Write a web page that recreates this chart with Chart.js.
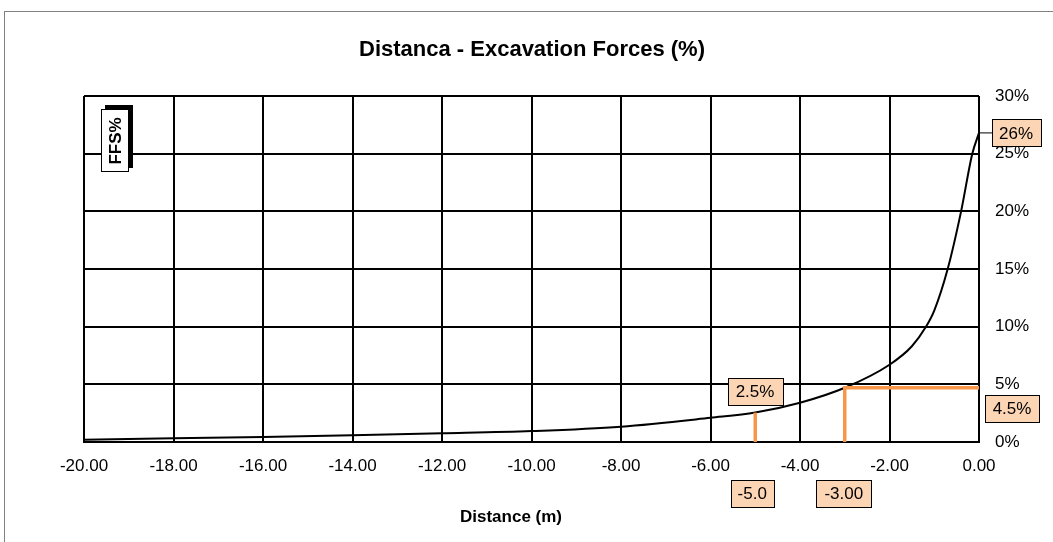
<!DOCTYPE html>
<html lang="en">
<head>
<meta charset="UTF-8">
<title>Distanca - Excavation Forces</title>
<script src="https://cdn.jsdelivr.net/npm/chart.js"></script>
<style>
  body { margin: 0; background: #fff; }
</style>
</head>
<body>
<canvas id="myChart" width="1053" height="542"></canvas>
<script>
// curve: distance (m) vs FFS (%)
const distance = [-20, -18, -16, -14, -12, -10, -8, -6, -5, -4, -3, -2, -1.5, -1.2, -1, -0.7, -0.4, -0.15, 0];
const ffs = [0.2, 0.32, 0.43, 0.58, 0.75, 0.95, 1.33, 2.1, 2.55, 3.4, 4.7, 6.7, 8.3, 9.9, 11.4, 15, 20, 25, 26.8];

// orange marker lines
const markA_x = [-5, -5];
const markA_y = [0, 2.55];
const markB_x = [-3, -3, 0];
const markB_y = [0, 4.7, 4.7];

const xTicks = [-20, -18, -16, -14, -12, -10, -8, -6, -4, -2, 0];
const yTicks = [0, 5, 10, 15, 20, 25, 30];

const FONT = '"Liberation Sans", Arial, sans-serif';
const ORANGE = '#F79646';
const PEACH = '#FCD5B4';

function pts(xs, ys) {
  return xs.map((x, i) => ({ x: x, y: ys[i] }));
}

// title, axis title, boxed labels, frame
const extras = {
  id: 'extras',
  afterDraw(chart) {
    const ctx = chart.ctx;
    const xs = chart.scales.x, ys = chart.scales.y;
    ctx.save();
    // outer frame
    ctx.strokeStyle = '#808080';
    ctx.lineWidth = 1;
    ctx.strokeRect(4.5, 11.5, 1100, 600);

    ctx.fillStyle = '#000';
    ctx.textAlign = 'center';
    ctx.textBaseline = 'middle';
    ctx.font = 'bold 22px ' + FONT;
    ctx.fillText('Distanca - Excavation Forces (%)', 532, 50);
    ctx.font = 'bold 17px ' + FONT;
    ctx.fillText('Distance (m)', 511, 517);

    function box(text, cx, cy, w, h) {
      ctx.fillStyle = PEACH;
      ctx.fillRect(Math.round(cx - w / 2) + 0.5, Math.round(cy - h / 2) + 0.5, w, h);
      ctx.strokeStyle = '#000';
      ctx.lineWidth = 1;
      ctx.strokeRect(Math.round(cx - w / 2) + 0.5, Math.round(cy - h / 2) + 0.5, w, h);
      ctx.fillStyle = '#000';
      ctx.font = '17px ' + FONT;
      ctx.textAlign = 'center';
      ctx.textBaseline = 'middle';
      ctx.fillText(text, cx, cy + 1);
    }

    // 26% leader line
    const topX = xs.getPixelForValue(0), topY = ys.getPixelForValue(ffs[ffs.length - 1]);
    ctx.strokeStyle = '#000';
    ctx.lineWidth = 1;
    ctx.beginPath();
    ctx.moveTo(topX, topY);
    ctx.lineTo(992, topY);
    ctx.stroke();
    box('26%', 1016, topY, 49, 27);

    box('2.5%', 755, 391, 55, 27);
    box('4.5%', 1012, 408, 54, 27);
    box('-5.0', xs.getPixelForValue(-5) - 3, 493, 43, 27);
    box('-3.00', xs.getPixelForValue(-3) - 1, 493, 55, 27);

    // FFS% legend-ish box with shadow
    ctx.fillStyle = '#000';
    ctx.fillRect(105, 105, 28, 63);
    ctx.fillStyle = '#fff';
    ctx.fillRect(101, 109, 28, 63);
    ctx.strokeStyle = '#000';
    ctx.strokeRect(101.5, 109.5, 27, 62);
    ctx.save();
    ctx.translate(116, 141);
    ctx.rotate(-Math.PI / 2);
    ctx.fillStyle = '#000';
    ctx.font = 'bold 17px ' + FONT;
    ctx.textAlign = 'center';
    ctx.textBaseline = 'middle';
    ctx.fillText('FFS%', 0, 0);
    ctx.restore();
    ctx.restore();
  }
};

const ctx = document.getElementById('myChart');

new Chart(ctx, {
  type: 'scatter',
  data: {
    datasets: [
      {
        data: pts(markA_x, markA_y),
        showLine: true,
        borderColor: ORANGE,
        borderWidth: 3.5,
        pointRadius: 0,
        tension: 0
      },
      {
        data: pts(markB_x, markB_y),
        showLine: true,
        borderColor: ORANGE,
        borderWidth: 3.5,
        pointRadius: 0,
        tension: 0
      },
      {
        data: pts(distance, ffs),
        showLine: true,
        borderColor: '#000',
        borderWidth: 2,
        pointRadius: 0,
        cubicInterpolationMode: 'monotone'
      }
    ]
  },
  options: {
    responsive: false,
    animation: false,
    layout: { padding: { left: 84, top: 96, right: 0, bottom: 0 } },
    plugins: {
      legend: { display: false },
      tooltip: { enabled: false }
    },
    scales: {
      x: {
        type: 'linear',
        min: -20,
        max: 0,
        afterFit: s => { s.height = 100; },
        afterBuildTicks: s => { s.ticks = xTicks.map(v => ({ value: v })); },
        grid: { color: '#000', lineWidth: 2, drawTicks: false },
        border: { color: '#000', width: 2 },
        ticks: {
          color: '#000',
          font: { family: FONT, size: 17 },
          padding: 14,
          maxRotation: 0,
          callback: v => v.toFixed(2)
        }
      },
      y: {
        position: 'right',
        min: 0,
        max: 30,
        afterFit: s => { s.width = 74; },
        afterBuildTicks: s => { s.ticks = yTicks.map(v => ({ value: v })); },
        grid: { color: '#000', lineWidth: 2, drawTicks: false },
        border: { color: '#000', width: 1 },
        ticks: {
          color: '#000',
          font: { family: FONT, size: 17 },
          padding: 16,
          callback: v => v + '%'
        }
      }
    }
  },
  plugins: [extras]
});
</script>
</body>
</html>
